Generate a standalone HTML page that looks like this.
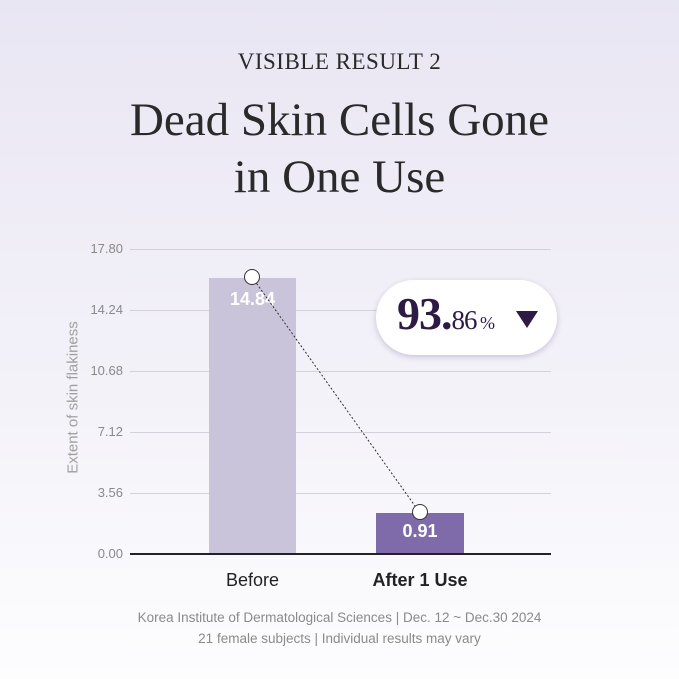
<!DOCTYPE html>
<html><head><style>
html,body{margin:0;padding:0}
body{width:679px;height:679px;overflow:hidden;background:linear-gradient(#e9e6f3 0%,#f2f0f8 50%,#fdfdfe 100%);font-family:"Liberation Sans",sans-serif;position:relative}
.t{position:absolute;left:0;width:679px;text-align:center;font-family:"Liberation Serif",serif;color:#2a2a2a}
.yl{position:absolute;right:556px;font-size:13px;color:#8a8a8a;width:60px;text-align:right}
.g{position:absolute;left:130px;width:421px;height:1px;background:#d4d0dc}
</style></head><body>
<div class="t" style="top:49px;font-size:23px;letter-spacing:0.5px">VISIBLE RESULT 2</div>
<div class="t" style="top:92px;font-size:47px;line-height:57px">Dead Skin Cells Gone<br>in One Use</div>
<div class="g" style="top:249px"></div>
<div class="g" style="top:310px"></div>
<div class="g" style="top:371px"></div>
<div class="g" style="top:432px"></div>
<div class="g" style="top:493px"></div>
<div class="yl" style="top:241px">17.80</div>
<div class="yl" style="top:302px">14.24</div>
<div class="yl" style="top:363px">10.68</div>
<div class="yl" style="top:424px">7.12</div>
<div class="yl" style="top:485px">3.56</div>
<div class="yl" style="top:546px">0.00</div>
<div style="position:absolute;left:-7px;top:389px;width:160px;transform:rotate(-90deg);transform-origin:center;font-size:15px;color:#a0a0a0;text-align:center">Extent of skin flakiness</div>
<div style="position:absolute;left:209px;top:278px;width:87px;height:276px;background:#c9c4d9"></div>
<div style="position:absolute;left:376px;top:513px;width:88px;height:41px;background:#7f6aaa"></div>
<div style="position:absolute;left:130px;top:553px;width:421px;height:1.5px;background:#222"></div>
<div style="position:absolute;left:209px;width:87px;top:289px;text-align:center;color:#fff;font-weight:bold;font-size:18px">14.84</div>
<div style="position:absolute;left:376px;width:88px;top:521px;text-align:center;color:#fff;font-weight:bold;font-size:18px">0.91</div>
<svg style="position:absolute;left:0;top:0" width="679" height="679">
<line x1="252" y1="277" x2="420" y2="513" stroke="#333" stroke-width="1" stroke-dasharray="2,2"/>
<circle cx="252" cy="277" r="7.5" fill="#fff" stroke="#333" stroke-width="1"/>
<circle cx="420" cy="512" r="7.5" fill="#fff" stroke="#333" stroke-width="1"/>
</svg>
<div style="position:absolute;left:376px;top:280px;width:181px;height:75px;border-radius:38px;background:#fff;box-shadow:0 2px 6px rgba(80,60,120,0.25)"></div>
<div style="position:absolute;left:397px;top:287px;font-family:'Liberation Serif',serif;color:#2d1a45;white-space:nowrap;letter-spacing:-1px"><span style="font-size:46px;font-weight:bold">93.</span><span style="font-size:27px">86</span><span style="font-size:18px"> %</span></div>
<svg style="position:absolute;left:516px;top:311px" width="24" height="18"><polygon points="0,0 22,0 11,17" fill="#2d1a45"/></svg>
<div style="position:absolute;left:209px;width:87px;top:570px;text-align:center;font-size:18px;color:#222">Before</div>
<div style="position:absolute;left:350px;width:140px;top:570px;text-align:center;font-size:18px;font-weight:bold;color:#222">After 1 Use</div>
<div style="position:absolute;left:0;width:679px;top:607px;text-align:center;font-size:13.5px;color:#8a8a8a;line-height:21px">Korea Institute of Dermatological Sciences | Dec. 12 ~ Dec.30 2024<br>21 female subjects | Individual results may vary</div>
</body></html>
